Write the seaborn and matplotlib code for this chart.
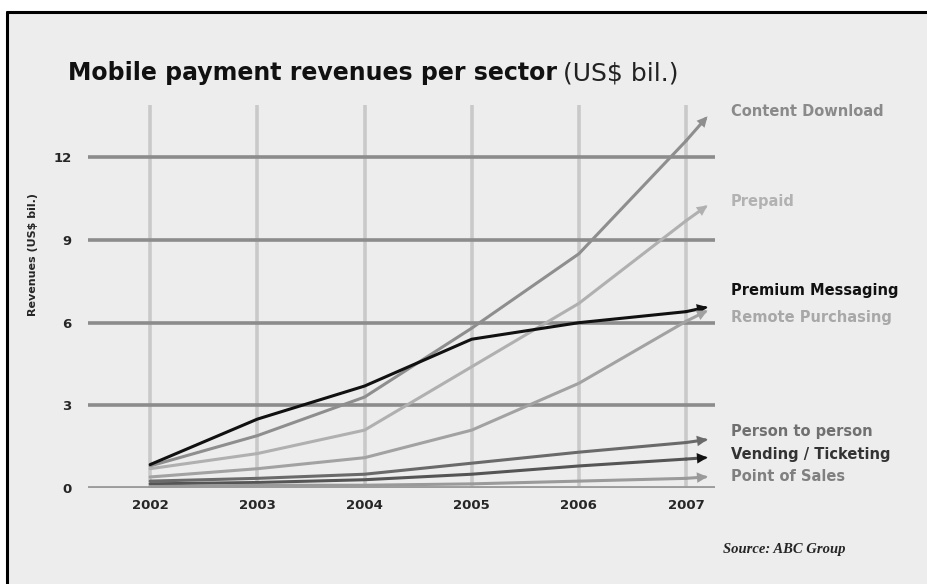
import pandas as pd
import matplotlib.pyplot as plt
import seaborn as sns
from matplotlib.patches import Rectangle

# values, US$ bil. per year
years = [2002, 2003, 2004, 2005, 2006, 2007]
tip_year = 2007.18  # arrows run a little past 2007

sectors = ["Content Download", "Prepaid", "Premium Messaging", "Remote Purchasing",
           "Person to person", "Vending / Ticketing", "Point of Sales"]
content_download = [0.8, 1.9, 3.3, 5.8, 8.5, 12.6]
prepaid = [0.7, 1.25, 2.1, 4.4, 6.7, 9.7]
premium_messaging = [0.85, 2.5, 3.7, 5.4, 6.0, 6.4]
remote_purchasing = [0.4, 0.7, 1.1, 2.1, 3.8, 6.05]
person_to_person = [0.25, 0.35, 0.5, 0.9, 1.3, 1.65]
vending_ticketing = [0.15, 0.2, 0.3, 0.5, 0.8, 1.05]
point_of_sales = [0.05, 0.1, 0.1, 0.15, 0.25, 0.35]
# value where each arrow ends
tips = [13.4, 10.2, 6.55, 6.4, 1.75, 1.1, 0.4]

line_colors = ["#8e8e8e", "#b0b0b0", "#111111", "#a2a2a2", "#6a6a6a", "#555555", "#9a9a9a"]
head_colors = ["#8e8e8e", "#b0b0b0", "#111111", "#a2a2a2", "#6a6a6a", "#111111", "#9a9a9a"]
label_colors = ["#8a8a8a", "#b2b2b2", "#111111", "#a8a8a8", "#707070", "#333333", "#808080"]
label_y = [13.65, 10.4, 7.15, 6.2, 2.05, 1.2, 0.4]

yticks = [0, 3, 6, 9, 12]

all_vals = [content_download, prepaid, premium_messaging, remote_purchasing,
            person_to_person, vending_ticketing, point_of_sales]
rows = []
for name, vals in zip(sectors, all_vals):
    for x, v in zip(years, vals):
        rows.append({"Year": x, "Revenue": v, "Sector": name})
df = pd.DataFrame(rows)

sns.set_theme(style="white")
plt.rcParams['font.family'] = ['DejaVu Sans']

fig = plt.figure(figsize=(9.27, 5.84), dpi=100)
fig.patch.set_facecolor("white")
# scanned page background and black frame
fig.add_artist(Rectangle((7 / 927, 0), 1, 1 - 12 / 584, transform=fig.transFigure,
                         facecolor="#ededed", edgecolor="none", zorder=-2))
fig.add_artist(plt.Line2D([7 / 927, 1], [1 - 12 / 584] * 2, color="black", lw=2.2,
                          transform=fig.transFigure))
fig.add_artist(plt.Line2D([7 / 927] * 2, [0, 1 - 12 / 584], color="black", lw=2.2,
                          transform=fig.transFigure))

ax = fig.add_axes([88 / 927, (584 - 488) / 584, (715 - 88) / 927, (488 - 105) / 584])
ax.set_facecolor("none")
ax.set_xlim(2001.42, 2007.27)
ax.set_ylim(0, 13.9)

for y in yticks:
    ax.axhline(y, color="#8c8c8c" if y else "#9c9c9c", lw=2.6 if y else 3.5, zorder=1)
for x in years:
    ax.axvline(x, color="#c9c9c9", lw=2.6, zorder=0)

sns.lineplot(data=df, x="Year", y="Revenue", hue="Sector", palette=line_colors,
             hue_order=sectors, lw=2.2, legend=False, ax=ax, zorder=3)

for name, vals, tip, c, hc, lc, ly in zip(sectors, all_vals, tips, line_colors,
                                           head_colors, label_colors, label_y):
    ax.annotate("", xy=(tip_year, tip), xytext=(years[-1], vals[-1]),
                arrowprops=dict(arrowstyle="-", color=c, lw=2.2,
                                shrinkA=0, shrinkB=0), zorder=3)
    ax.annotate("", xy=(tip_year + 0.02, tip + (tip - vals[-1]) * 0.02 / (tip_year - years[-1])),
                xytext=(years[-1], vals[-1]),
                arrowprops=dict(arrowstyle="-|>", color=hc, lw=0, mutation_scale=19,
                                shrinkA=0, shrinkB=0), zorder=4)
    ax.text(2007.42, ly, name, color=lc, fontsize=10.5, fontweight="bold",
            va="center", ha="left", clip_on=False)

for s in ax.spines.values():
    s.set_visible(False)
ax.set_xticks(years)
ax.set_xticklabels([str(y) for y in years], fontsize=9.5, fontweight="bold")
ax.set_yticks(yticks)
ax.set_yticklabels([str(y) for y in yticks], fontsize=9.5, fontweight="bold")
ax.tick_params(axis="x", length=0, pad=8)
ax.tick_params(axis="y", length=0, pad=12)
ax.set_xlabel("")
ax.set_ylabel("Revenues (US$ bil.)", fontsize=8, fontweight="bold")
ax.yaxis.set_label_coords(-0.08, 0.61)

fig.text(68 / 927, 1 - 73 / 584, "Mobile payment revenues per sector", fontsize=17,
         fontweight="bold", va="center", ha="left", color="#111111")
fig.text(563 / 927, 1 - 73 / 584, "(US$ bil.)", fontsize=18, va="center", ha="left",
         color="#222222")
fig.text(723 / 927, 1 - 549 / 584, "Source: ABC Group", fontsize=10.5, fontweight="bold",
         style="italic", family=["Liberation Serif"], va="center", ha="left")

fig.savefig("out.png", dpi=100)
